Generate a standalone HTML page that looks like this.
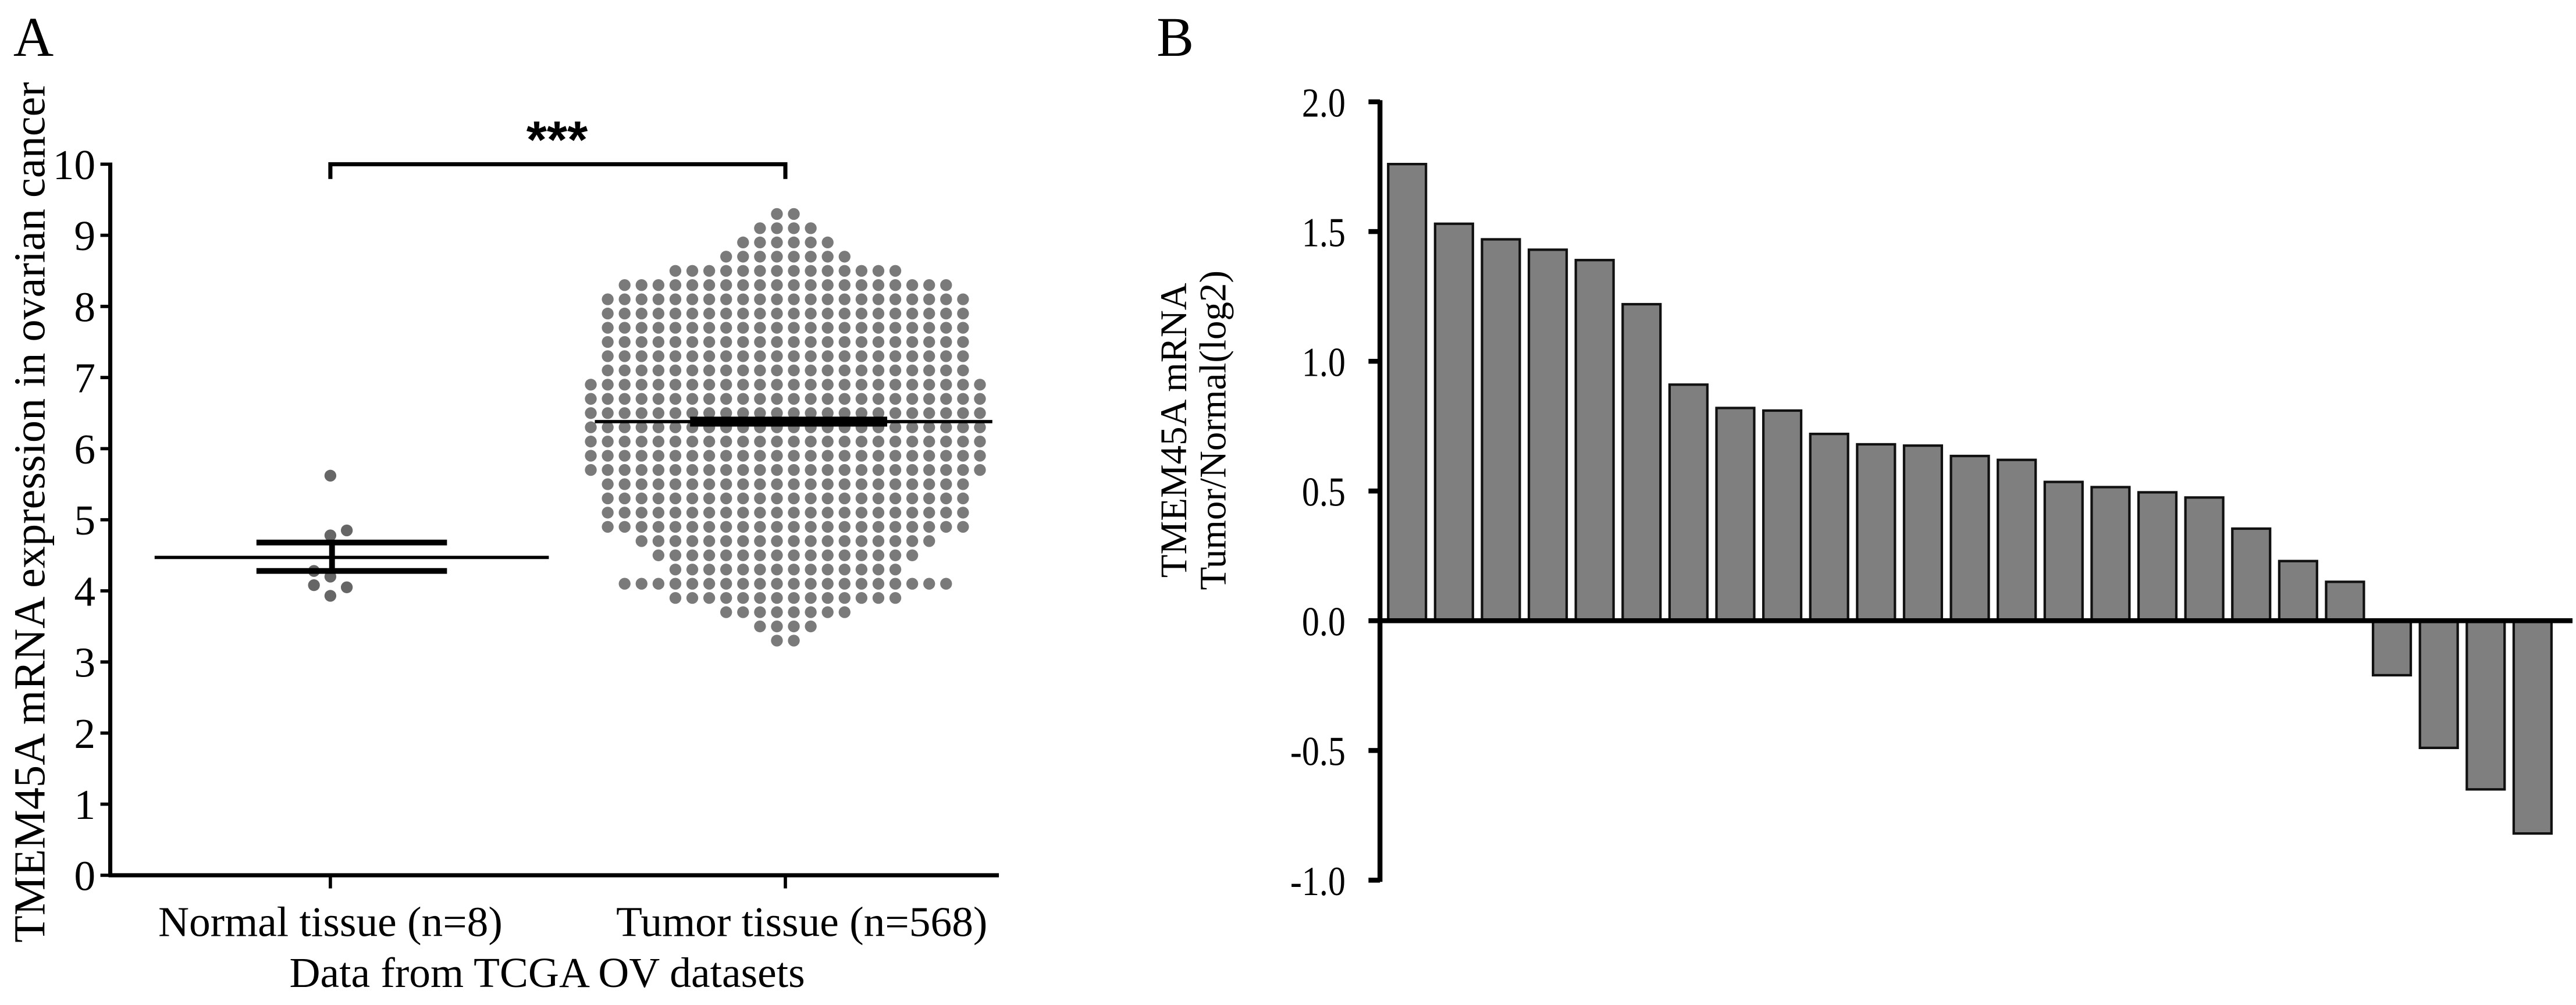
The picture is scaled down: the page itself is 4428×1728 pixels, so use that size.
<!DOCTYPE html>
<html><head><meta charset="utf-8"><style>
html,body{margin:0;padding:0;background:#fff;}
svg{display:block;font-family:"Liberation Serif",serif;}
</style></head><body>
<svg id="fig" width="4428" height="1728" viewBox="0 0 1568 612" xmlns="http://www.w3.org/2000/svg">
<text x="8" y="34" font-size="34">A</text>
<text x="704" y="34" font-size="34">B</text>
<g id="pa"></g>
<g id="pb"></g>
</svg>
<script>
// ---------- Panel A data ----------
const aTicks = [0,1,2,3,4,5,6,7,8,9,10];
const aCategories = ["Normal tissue (n=8)","Tumor tissue (n=568)"];
const normalValues = [5.62,4.85,4.78,4.28,4.2,4.08,4.05,3.93];
const normalStats = [4.47,4.68,4.28]; // mean, mean+sem, mean-sem
const tumorStats = [6.38,6.45,6.31];
const tumorRowValues = [3.3,3.5,3.7,3.9,4.1,4.3,4.5,4.7,4.9,5.1,5.3,5.5,5.7,5.9,6.1,6.3,6.5,6.7,6.9,7.1,7.3,7.5,7.7,7.9,8.1,8.3,8.5,8.7,8.9,9.1,9.3];
const tumorRowCounts = [2,4,8,14,20,14,16,18,22,22,22,22,24,24,24,24,24,24,24,22,22,22,22,22,22,20,14,8,6,4,2];
// ---------- Panel B data ----------
const bTicks = [-1.0,-0.5,0.0,0.5,1.0,1.5,2.0];
const bValues = [1.76,1.53,1.47,1.43,1.39,1.22,0.91,0.82,0.81,0.72,0.68,0.675,0.635,0.62,0.535,0.515,0.495,0.475,0.355,0.23,0.15,-0.21,-0.49,-0.65,-0.82];

const NS="http://www.w3.org/2000/svg";
function mk(parent,tag,attrs,text){const e=document.createElementNS(NS,tag);for(const k in attrs)e.setAttribute(k,attrs[k]);if(text!==undefined)e.textContent=text;parent.appendChild(e);return e;}

// ---------- Panel A ----------
const pa=document.getElementById('pa');
const ay=v=>533-v*43.3;
const ax=[201,478];
let e;
e=mk(pa,'line',{x1:67,y1:ay(10)-1,x2:67,y2:534,stroke:'#000','stroke-width':2.5});

e=mk(pa,'line',{x1:66,y1:533,x2:608,y2:533,stroke:'#000','stroke-width':2.5});

aTicks.forEach(t=>{
  mk(pa,'line',{x1:61,y1:ay(t),x2:67,y2:ay(t),stroke:'#000','stroke-width':2});
  e=mk(pa,'text',{x:58,y:ay(t)+9,'font-size':26,'text-anchor':'end'},String(t));
  
});
aCategories.forEach((c,i)=>{
  mk(pa,'line',{x1:ax[i],y1:533,x2:ax[i],y2:541,stroke:'#000','stroke-width':2});
  e=mk(pa,'text',{x:ax[i]+(i?10:0),y:570,'font-size':26,'text-anchor':'middle'},c);
  
});
e=mk(pa,'text',{x:333,y:601,'font-size':26,'text-anchor':'middle'},'Data from TCGA OV datasets');

e=mk(pa,'text',{x:0,y:0,'font-size':27,'text-anchor':'middle',transform:'translate(27,312) rotate(-90)'},'TMEM45A mRNA expression in ovarian cancer');

e=mk(pa,'path',{d:`M${ax[0]},109 V100 H${ax[1]} V109`,fill:'none',stroke:'#000','stroke-width':2.5});

e=mk(pa,'text',{x:339,y:96,'font-size':32,'font-weight':'bold','text-anchor':'middle','font-family':'Liberation Sans, sans-serif'},'***');

// tumor swarm
tumorRowValues.forEach((v,r)=>{
  const n=tumorRowCounts[r];const sp=10.3;
  for(let k=0;k<n;k++){
    const x=ax[1]+(k-(n-1)/2)*sp;
    const d=mk(pa,'circle',{cx:x,cy:ay(v),r:3.6,fill:'#7a7a7a'});
    
    
  }
});
const nOff=[0,10,0,-10,0,-10,10,0];
normalValues.forEach((v,i)=>{
  const d=mk(pa,'circle',{cx:ax[0]+nOff[i],cy:ay(v),r:3.6,fill:'#666'});
  
  
});
e=mk(pa,'line',{x1:94,y1:ay(normalStats[0]),x2:334,y2:ay(normalStats[0]),stroke:'#000','stroke-width':2});

[1,2].forEach(i=>{e=mk(pa,'line',{x1:156,y1:ay(normalStats[i]),x2:272,y2:ay(normalStats[i]),stroke:'#000','stroke-width':3.5});
});
mk(pa,'line',{x1:ax[0]+1,y1:ay(normalStats[1]),x2:ax[0]+1,y2:ay(normalStats[2]),stroke:'#000','stroke-width':3.5});
e=mk(pa,'line',{x1:362,y1:ay(tumorStats[0]),x2:604,y2:ay(tumorStats[0]),stroke:'#000','stroke-width':2});

e=mk(pa,'rect',{x:420,y:ay(tumorStats[1]),width:120,height:ay(tumorStats[2])-ay(tumorStats[1]),fill:'#000'});


// ---------- Panel B ----------
const pb=document.getElementById('pb');
const by=v=>378-v*158;
const bx=i=>845+i*28.55;
e=mk(pb,'line',{x1:840,y1:by(2)-1,x2:840,y2:by(-1)+1,stroke:'#000','stroke-width':3});

bTicks.forEach(t=>{
  mk(pb,'line',{x1:833,y1:by(t),x2:840,y2:by(t),stroke:'#000','stroke-width':3});
  e=mk(pb,'text',{x:819/0.85,y:by(t)+9,'font-size':25,'text-anchor':'end',transform:'scale(0.85,1)'},t.toFixed(1));
  
});
bValues.forEach((v,i)=>{
  const y0=Math.min(by(v),by(0)),h=Math.abs(by(v)-by(0));
  const b=mk(pb,'rect',{x:bx(i),y:y0,width:23,height:h,fill:'#7f7f7f',stroke:'#111','stroke-width':1.5});
  
  
});
e=mk(pb,'line',{x1:839,y1:378,x2:1566,y2:378,stroke:'#000','stroke-width':3});

e=mk(pb,'text',{x:0,y:0,'font-size':23,'text-anchor':'middle',transform:'translate(722,262) rotate(-90)'},'TMEM45A mRNA');

e=mk(pb,'text',{x:0,y:0,'font-size':23,'text-anchor':'middle',transform:'translate(746,262) rotate(-90)'},'Tumor/Normal(log2)');

</script>
</body></html>
